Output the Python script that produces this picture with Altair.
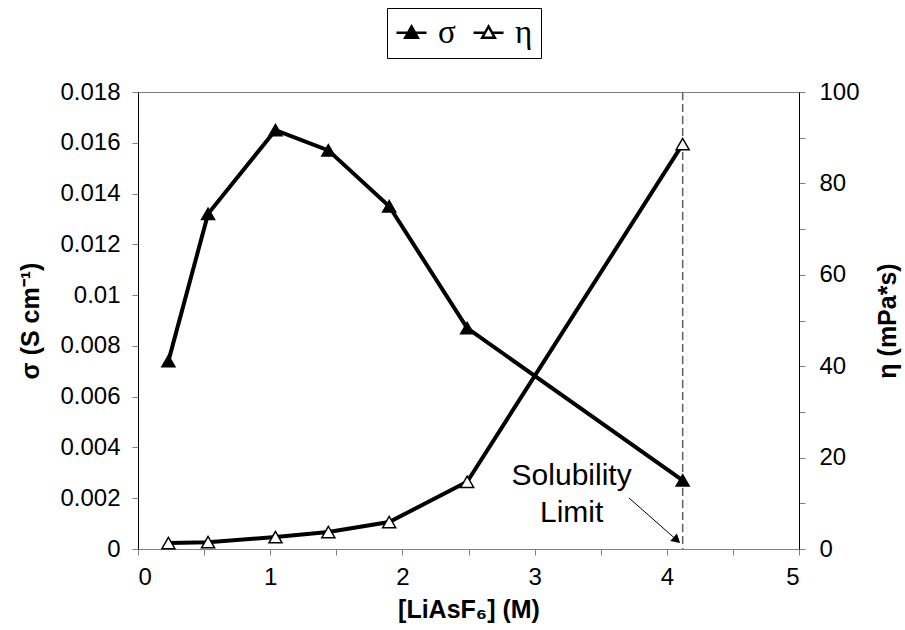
import altair as alt
import pandas as pd

# ---- data ----
conc = [0.23, 0.53, 1.04, 1.44, 1.90, 2.49, 4.12]
sigma = [0.0074, 0.0132, 0.0165, 0.0157, 0.0135, 0.0087, 0.0027]
eta = [1.3, 1.5, 2.6, 3.7, 5.9, 14.7, 88.6]
series_names = ["σ", "η"]
x_ticks = [0, 0.5, 1, 1.5, 2, 2.5, 3, 3.5, 4, 4.5, 5]
sigma_ticks = [0, 0.002, 0.004, 0.006, 0.008, 0.01, 0.012, 0.014, 0.016, 0.018]
eta_ticks = [0, 10, 20, 30, 40, 50, 60, 70, 80, 90, 100]
limit_x = [4.12]
note_lines = ["Solubility\nLimit"]
note_x = [3.28]
note_y = [0.00252]
arrow_x = [3.714]
arrow_y = [0.00201]
arrow_x2 = [4.076]
arrow_y2 = [0.00035]

FONT = "Liberation Sans"
GRAY = "#808080"

sig_df = pd.DataFrame({"conc": conc, "value": sigma, "series": series_names[0]})
eta_df = pd.DataFrame({"conc": conc, "value": eta, "series": series_names[1]})
limit_df = pd.DataFrame({"lx": limit_x})
note_df = pd.DataFrame({"nx": note_x, "ny": note_y, "txt": note_lines})
arrow_df = pd.DataFrame({"ax": arrow_x, "ay": arrow_y, "ax2": arrow_x2, "ay2": arrow_y2})

x_axis = alt.Axis(values=x_ticks, format="~g",
                  labelExpr="datum.value % 1 === 0 ? datum.label : ''",
                  grid=False, domainColor=GRAY, tickColor=GRAY, tickSize=6,
                  labelFontSize=24, labelPadding=10, labelColor="black",
                  titleFontSize=25, titleFontWeight="bold", titleColor="black",
                  titlePadding=8)
x_scale = alt.Scale(domain=[0, 5], nice=False)
X_TITLE = "[LiAsF₆] (M)"

left_axis = alt.Axis(orient="left", values=sigma_ticks, format="~g", grid=False,
                     domainColor="black", tickColor=GRAY, tickSize=6,
                     labelFontSize=24, labelPadding=12, labelColor="black",
                     titleFontSize=25, titleFontWeight="bold", titleColor="black",
                     titlePadding=16)
sig_scale = alt.Scale(domain=[0, 0.018], nice=False)
SIG_TITLE = "σ (S cm⁻¹)"

right_axis = alt.Axis(orient="right", values=eta_ticks,
                      labelExpr="datum.value % 20 === 0 ? datum.label : ''",
                      grid=False, domainColor="black", tickColor=GRAY, tickSize=6,
                      labelFontSize=24, labelPadding=14, labelColor="black",
                      titleFontSize=25, titleFontWeight="bold", titleColor="black",
                      titlePadding=16, titleAngle=270, titleBaseline="top")
eta_scale = alt.Scale(domain=[0, 100], nice=False)
ETA_TITLE = "η (mPa*s)"

LEG_PATH = "M-1,0H-0.2M0.2,0H1M0,-0.42L0.42,0.33L-0.42,0.33Z"
legend = alt.Legend(title=None, orient="none", legendX=249, legendY=-84,
                    direction="horizontal", symbolType=LEG_PATH, symbolSize=900,
                    symbolStrokeColor="black", symbolStrokeWidth=2.5,
                    labelFont="Liberation Serif", labelFontSize=33, labelColor="black",
                    labelOffset=10, columnPadding=12, padding=8,
                    strokeColor="black", fillColor="white")
fill_enc = alt.Fill("series:N", scale=alt.Scale(domain=series_names, range=["black", "white"]),
                    legend=legend)


def xq(f):
    return alt.X(f"{f}:Q", scale=x_scale, axis=x_axis, title=X_TITLE)


def ys(f):
    return alt.Y(f"{f}:Q", scale=sig_scale, axis=left_axis, title=SIG_TITLE)


def ye(f):
    return alt.Y(f"{f}:Q", scale=eta_scale, axis=right_axis, title=ETA_TITLE)


sig_line = alt.Chart(sig_df).mark_line(color="black", strokeWidth=4).encode(x=xq("conc"), y=ys("value"))
sig_pts = alt.Chart(sig_df).mark_point(shape="triangle-up", filled=True, size=170, stroke="black",
                                       strokeWidth=1.5, opacity=1).encode(
    x=xq("conc"), y=ys("value"), fill=fill_enc)
note = alt.Chart(note_df).mark_text(align="center", baseline="alphabetic", fontSize=30, font=FONT,
                                    lineBreak="\n", lineHeight=37, color="black").encode(
    x=xq("nx"), y=ys("ny"), text="txt:N")
arrow = alt.Chart(arrow_df).mark_rule(color="black", strokeWidth=1).encode(
    x=xq("ax"), y=ys("ay"), x2="ax2:Q", y2="ay2:Q")
arrow_head = alt.Chart(arrow_df).mark_point(shape="triangle-up", angle=131.4, size=100, filled=True,
                                            color="black", opacity=1).encode(x=xq("ax2"), y=ys("ay2"))

left_group = alt.layer(sig_line, note, arrow, arrow_head, sig_pts)

eta_line = alt.Chart(eta_df).mark_line(color="black", strokeWidth=4).encode(x=xq("conc"), y=ye("value"))
eta_pts = alt.Chart(eta_df).mark_point(shape="triangle-up", filled=True, size=170, stroke="black",
                                       strokeWidth=1.5, opacity=1).encode(
    x=xq("conc"), y=ye("value"), fill=fill_enc)
right_group = alt.layer(eta_line, eta_pts)

limit_rule = alt.Chart(limit_df).mark_rule(color="#606060", strokeDash=[8, 4], strokeWidth=1.5).encode(
    x=xq("lx"))

chart = alt.layer(limit_rule, right_group, left_group).resolve_scale(y="independent").properties(
    width=661, height=457,
    autosize=alt.AutoSizeParams(type="none"),
    padding={"left": 138, "top": 92, "right": 106, "bottom": 81},
).configure_axis(labelFont=FONT, titleFont=FONT).configure_view(stroke=GRAY, strokeWidth=1)

chart.save("out.html", embed_options={"renderer": "svg", "actions": False})
